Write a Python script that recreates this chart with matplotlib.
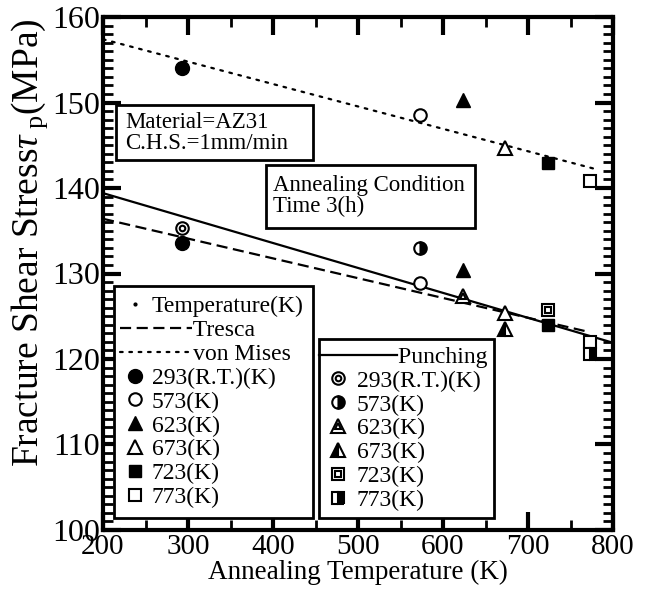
import matplotlib
matplotlib.use("Agg")
import matplotlib.pyplot as plt
from matplotlib.lines import Line2D
from matplotlib.patches import Rectangle
from matplotlib.legend_handler import HandlerLine2D
from matplotlib.ticker import MultipleLocator

plt.rcParams["font.family"] = ["Liberation Serif", "DejaVu Serif"]
plt.rcParams["mathtext.fontset"] = "custom"
plt.rcParams["mathtext.rm"] = "Liberation Serif"
plt.rcParams["mathtext.it"] = "Liberation Serif:italic"

# ---------------- data ---------------- #
temps = [293, 573, 623, 673, 723, 773]
labels_t = ["293(R.T.)(K)", "573(K)", "623(K)", "673(K)", "723(K)", "773(K)"]

mises_pts = [154.0, 148.5, 150.3, 144.7, 142.9, 140.8]      # upper group
tresca_pts = [133.6, 128.9, 130.4, 125.4, 124.0, 122.0]     # lower group
punch_pts = [135.3, 133.0, 127.4, 123.5, 125.7, 120.6]      # punching test

mises_x, mises_y = [200, 780], [157.4, 142.2]
tresca_x, tresca_y = [200, 770], [136.4, 123.2]
punch_x, punch_y = [200, 800], [139.4, 121.9]

# marker style per temperature (theory groups)
theo_style = [
    dict(marker="o", ms=10, mfc="black", mec="black"),
    dict(marker="o", ms=9, mfc="white", mec="black", mew=1.5),
    dict(marker="^", ms=10, mfc="black", mec="black"),
    dict(marker="^", ms=10, mfc="white", mec="black", mew=1.5),
    dict(marker="s", ms=9, mfc="black", mec="black"),
    dict(marker="s", ms=9, mfc="white", mec="black", mew=1.5),
]


def punch_handles(i):
    """Return list of Line2D styles (overlaid) for punching marker i."""
    if i == 0:
        return [dict(marker="o", ms=9, mfc="white", mec="black", mew=1.5),
                dict(marker="o", ms=4, mfc="white", mec="black", mew=1.5)]
    if i == 1:
        return [dict(marker="o", ms=9, fillstyle="right", mfc="black",
                     mfcalt="white", mec="black", mew=1.5)]
    if i == 2:
        return [dict(marker="^", ms=10, mfc="white", mec="black", mew=1.5),
                dict(marker="^", ms=5, mfc="white", mec="black", mew=1.5)]
    if i == 3:
        return [dict(marker="^", ms=10, fillstyle="left", mfc="black",
                     mfcalt="white", mec="black", mew=1.5)]
    if i == 4:
        return [dict(marker="s", ms=9, mfc="white", mec="black", mew=1.5),
                dict(marker="s", ms=4, mfc="white", mec="black", mew=1.5)]
    return [dict(marker="s", ms=9, fillstyle="right", mfc="black",
                 mfcalt="white", mec="black", mew=1.5)]


class LongLine(HandlerLine2D):
    """Line handle that reaches further left/right than the handle box."""

    def __init__(self, left=0.0, right=0.0, **kw):
        super().__init__(**kw)
        self.left = left
        self.right = right

    def create_artists(self, legend, orig_handle, xdescent, ydescent,
                       width, height, fontsize, trans):
        return super().create_artists(
            legend, orig_handle, xdescent + self.left, ydescent,
            width + self.left + self.right, height, fontsize, trans)


fig = plt.figure(figsize=(6.59, 5.97), dpi=100)
ax = fig.add_axes([103 / 659, 67 / 597, 510 / 659, 513 / 597])

DOT = dict(dashes=(1.2, 3.0), dash_capstyle="round")
DASH = dict(dashes=(5.0, 2.5))

ax.plot(mises_x, mises_y, color="black", lw=1.6, **DOT)
ax.plot(tresca_x, tresca_y, color="black", lw=1.6, **DASH)
ax.plot(punch_x, punch_y, color="black", lw=1.6)

for t, y1, y2, st in zip(temps, mises_pts, tresca_pts, theo_style):
    ax.plot([t], [y1], ls="none", **st)
    ax.plot([t], [y2], ls="none", **st)
for i, (t, y) in enumerate(zip(temps, punch_pts)):
    for st in punch_handles(i):
        ax.plot([t], [y], ls="none", **st)

ax.set_xlim(200, 800)
ax.set_ylim(100, 160)
ax.xaxis.set_major_locator(MultipleLocator(100))
ax.xaxis.set_minor_locator(MultipleLocator(50))
ax.yaxis.set_major_locator(MultipleLocator(10))
ax.yaxis.set_minor_locator(MultipleLocator(1))
ax.tick_params(which="both", direction="in", top=True, right=True)
ax.tick_params(which="major", length=13, width=3)
ax.tick_params(which="minor", length=7, width=2)
ax.tick_params(axis="y", labelsize=23, pad=2)
ax.tick_params(axis="x", labelsize=21, pad=3)
for sp in ax.spines.values():
    sp.set_linewidth(3)

ax.set_xlabel("Annealing Temperature (K)", fontsize=19.5, labelpad=0)
ax.set_ylabel(r"Fracture Shear Stress$\tau_{\ \mathrm{p}}$(MPa)",
              fontsize=27)
ax.yaxis.set_label_coords(-0.104, 0.56)

# ---------------- annotation boxes ---------------- #
ax.add_patch(Rectangle((13 / 510, (530 - 160) / 513), 197 / 510, 55 / 513,
                       transform=ax.transAxes, fc="white", ec="black",
                       lw=2, zorder=5))
ax.text(22 / 510, (530 - 133) / 513, "Material=AZ31\nC.H.S.=1mm/min",
        transform=ax.transAxes, fontsize=16.5, va="center", ha="left",
        linespacing=1.05, zorder=6)
ax.add_patch(Rectangle((163 / 510, (530 - 228) / 513), 209 / 510, 63 / 513,
                       transform=ax.transAxes, fc="white", ec="black",
                       lw=2, zorder=5))
ax.text(170 / 510, (530 - 196) / 513, "Annealing Condition\nTime 3(h)",
        transform=ax.transAxes, fontsize=16.5, va="center", ha="left",
        linespacing=1.05, zorder=6)

# ---------------- legends ---------------- #
FS = 17
h1 = [Line2D([], [], ls="none", marker=".", ms=4, color="black"),
      Line2D([], [], color="black", lw=1.6, **DASH),
      Line2D([], [], color="black", lw=1.6, **DOT)]
l1 = ["Temperature(K)", "       Tresca", "       von Mises"]
for st, lab in zip(theo_style, labels_t):
    h1.append(Line2D([], [], ls="none", **st))
    l1.append(lab)
hmap1 = {h1[1]: LongLine(left=0.15 * FS, right=1.9 * FS),
         h1[2]: LongLine(left=0.15 * FS, right=1.9 * FS)}

leg1 = ax.legend(h1, l1, loc="lower left", bbox_to_anchor=(0.022, 0.024),
                 fontsize=FS, handlelength=1.0, handletextpad=0.2,
                 labelspacing=0.1, borderpad=0.4, borderaxespad=0,
                 fancybox=False, edgecolor="black", framealpha=1,
                 handler_map=hmap1)
leg1.get_frame().set_linewidth(2)
leg1.set_zorder(7)
ax.add_artist(leg1)

h2 = [Line2D([], [], color="black", lw=1.6)]
l2 = ["       Punching"]
for i, lab in enumerate(labels_t):
    h2.append(tuple(Line2D([], [], ls="none", **st) for st in punch_handles(i)))
    l2.append(lab)
hmap2 = {h2[0]: LongLine(left=0.3 * FS, right=2.0 * FS)}

leg2 = ax.legend(h2, l2, loc="lower left", bbox_to_anchor=(0.423, 0.023),
                 fontsize=FS, handlelength=1.0, handletextpad=0.3,
                 labelspacing=0.1, borderpad=0.3, borderaxespad=0,
                 fancybox=False, edgecolor="black", framealpha=1,
                 handler_map=hmap2)
leg2.get_frame().set_linewidth(2)
leg2.set_zorder(7)

fig.savefig("out.png", dpi=100)
